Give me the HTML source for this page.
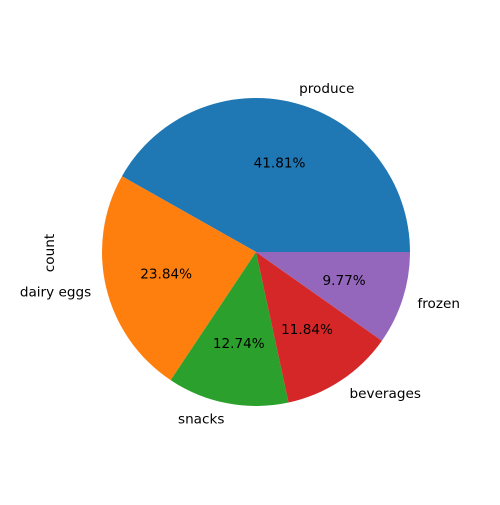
<!DOCTYPE html>
<html><head><meta charset="utf-8"><style>
body{margin:0;background:#fff}
svg text{font-family:"DejaVu Sans","Liberation Sans",sans-serif;font-size:13.6px;fill:#000}
</style></head><body>
<svg id="chart" width="500" height="500" viewBox="0 0 500 500" xmlns="http://www.w3.org/2000/svg">
<rect width="500" height="500" fill="#fff"/>
<text x="50" y="253" transform="rotate(-90 50 253)" text-anchor="middle" dominant-baseline="central">count</text>
</svg>
<script>
const categories = ["produce","dairy eggs","snacks","beverages","frozen"];
const values = [41.81,23.84,12.74,11.84,9.77];
const colors = ["#1f77b4","#ff7f0e","#2ca02c","#d62728","#9467bd"];
const svg = document.getElementById('chart');
const NS = "http://www.w3.org/2000/svg";
const cx = 256, cy = 252, r = 154;
const total = values.reduce((a,b)=>a+b,0);
function pt(angDeg, rad){const a=angDeg*Math.PI/180;return [cx+rad*Math.cos(a), cy-rad*Math.sin(a)];}
let start = 0;
values.forEach((v,i)=>{
  const sweep = v/total*360;
  const end = start+sweep;
  const [x1,y1]=pt(start,r), [x2,y2]=pt(end,r);
  const p=document.createElementNS(NS,'path');
  p.setAttribute('d',`M${cx},${cy} L${x1},${y1} A${r},${r} 0 ${sweep>180?1:0} 0 ${x2},${y2} Z`);
  p.setAttribute('fill',colors[i]);
  
  
  svg.appendChild(p);
  const mid=(start+end)/2;
  const [lx,ly]=pt(mid,r*1.1);
  const t=document.createElementNS(NS,'text');
  t.setAttribute('x',lx);t.setAttribute('y',ly+1);
  t.setAttribute('text-anchor', lx<cx?'end':'start');
  t.setAttribute('dominant-baseline','central');
  t.textContent=categories[i];
  
  
  svg.appendChild(t);
  const [px,py]=pt(mid,r*0.6);
  const q=document.createElementNS(NS,'text');
  q.setAttribute('x',px);q.setAttribute('y',py+1);
  q.setAttribute('text-anchor','middle');
  q.setAttribute('dominant-baseline','central');
  q.textContent=(v/total*100).toFixed(2)+'%';
  
  
  svg.appendChild(q);
  start=end;
});
</script>
</body></html>
